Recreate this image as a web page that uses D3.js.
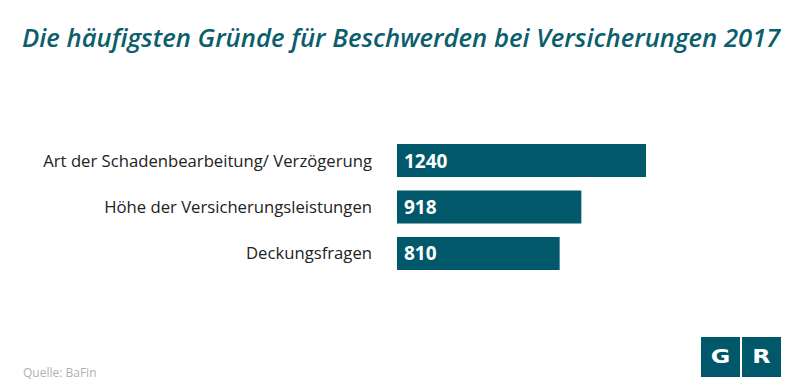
<!DOCTYPE html>
<html><head><meta charset="utf-8">
<script src="https://cdn.jsdelivr.net/npm/d3@7/dist/d3.min.js"></script>
<style>body{margin:0;background:#fff}svg{display:block}</style>
</head><body>
<svg id="chart" width="800" height="392"></svg>
<script>
const categories = ["Art der Schadenbearbeitung/ Verzögerung", "Höhe der Versicherungsleistungen", "Deckungsfragen"];
const values = [1240, 918, 810];
const titleText = "Die häufigsten Gründe für Beschwerden bei Versicherungen 2017";
const sourceText = "Quelle: BaFin";

const svg = d3.select("#chart");
const teal = "#00586a";

const x = d3.scaleLinear().domain([0, 1240]).range([397, 646]);
const y = d3.scaleBand().domain(categories).range([144, 270]).paddingInner(0.29).paddingOuter(0);

// title
const title = svg.append("text").attr("x", 22).attr("y", 47)
  .attr("font-family", "Open Sans").attr("font-style", "italic").attr("font-weight", 600)
  .attr("font-size", 27).attr("fill", "#0b5e6b").text(titleText);
const tw = title.node().getComputedTextLength();
title.attr("font-size", 27 * 759 / tw);

// bars
svg.selectAll("rect.bar").data(values).join("rect").attr("class", "bar")
  .attr("x", x(0)).attr("y", (d, i) => y(categories[i]))
  .attr("width", d => x(d) - x(0)).attr("height", y.bandwidth()).attr("fill", teal);

svg.selectAll("text.val").data(values).join("text").attr("class", "val")
  .attr("x", x(0) + 7).attr("y", (d, i) => y(categories[i]) + y.bandwidth() / 2 + 7)
  .attr("font-family", "Open Sans").attr("font-weight", 700).attr("font-size", 19)
  .attr("fill", "#fff").text(d => d);

const labs = svg.selectAll("text.lab").data(categories).join("text").attr("class", "lab")
  .attr("x", 372).attr("y", d => y(d) + y.bandwidth() / 2 + 6)
  .attr("text-anchor", "end").attr("font-family", "Open Sans").attr("font-size", 16.5)
  .attr("fill", "#222").text(d => d);
const lw = labs.node().getComputedTextLength();
labs.attr("font-size", 16.5 * 329 / lw);

svg.append("text").attr("x", 23).attr("y", 377).attr("font-family", "Open Sans")
  .attr("font-size", 12).attr("fill", "#b0b0b0").text(sourceText);

// logo
const logo = svg.append("g");
[["G", 701], ["R", 742]].forEach(([t, lx]) => {
  logo.append("rect").attr("x", lx).attr("y", 337).attr("width", 39).attr("height", 40).attr("fill", teal);
  logo.append("text").attr("x", lx + 19.5).attr("y", 363).attr("text-anchor", "middle")
    .attr("font-family", "DejaVu Sans").attr("font-weight", 700).attr("font-size", 19)
    .attr("transform", `translate(${lx + 19.5},0) scale(1.25,1) translate(${-(lx + 19.5)},0)`)
    .attr("fill", "#fff").text(t);
});
</script>
</body></html>
